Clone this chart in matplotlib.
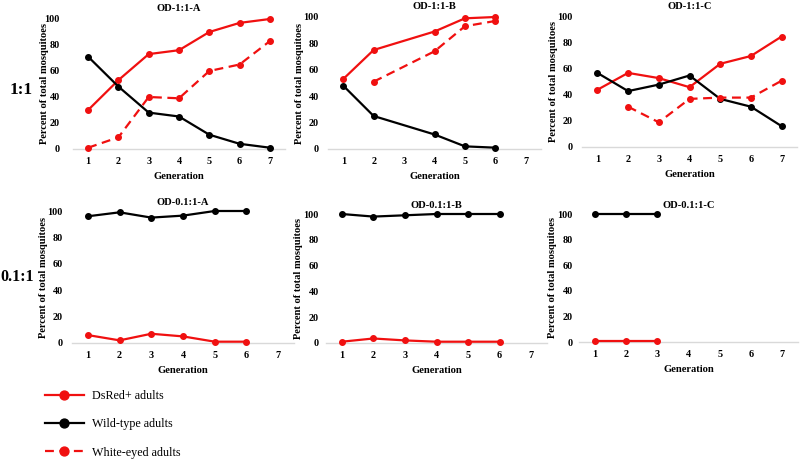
import matplotlib
matplotlib.use("Agg")
import matplotlib.pyplot as plt
from matplotlib.lines import Line2D

plt.rcParams['font.family'] = ['Liberation Serif', 'DejaVu Serif']

# ---------------- data ----------------
generations = [1, 2, 3, 4, 5, 6, 7]
tick_labels = ["1", "2", "3", "4", "5", "6", "7"]
y_ticks = [0, 20, 40, 60, 80, 100]

titles = ["OD-1:1-A", "OD-1:1-B", "OD-1:1-C",
          "OD-0.1:1-A", "OD-0.1:1-B", "OD-0.1:1-C"]
row_labels = ["1:1", "0.1:1"]
series_names = ["DsRed+ adults", "Wild-type adults", "White-eyed adults"]

# OD-1:1-A
a1_dsred_x = [1, 2, 3, 4, 5, 6, 7]
a1_dsred = [30, 53, 73, 76, 90, 97, 100]
a1_wild_x = [1, 2, 3, 4, 5, 6, 7]
a1_wild = [71, 48, 28, 25, 11, 4, 1]
a1_white_x = [1, 2, 3, 4, 5, 6, 7]
a1_white = [1, 9, 40, 39, 60, 65, 83]

# OD-1:1-B
b1_dsred_x = [1, 2, 4, 5, 6]
b1_dsred = [53, 75, 89, 99, 100]
b1_wild_x = [1, 2, 4, 5, 6]
b1_wild = [48, 25, 11, 2, 1]
b1_white_x = [2, 4, 5, 6]
b1_white = [51, 74, 93, 97]

# OD-1:1-C
c1_dsred_x = [1, 2, 3, 4, 5, 6, 7]
c1_dsred = [44, 57, 53, 46, 64, 70, 85]
c1_wild_x = [1, 2, 3, 4, 5, 6, 7]
c1_wild = [57, 43, 48, 55, 37, 31, 16]
c1_white_x = [2, 3, 4, 5, 6, 7]
c1_white = [31, 19, 37, 38, 38, 51]

# OD-0.1:1-A
a2_dsred_x = [1, 2, 3, 4, 5, 6]
a2_dsred = [6, 2, 7, 5, 1, 1]
a2_wild_x = [1, 2, 3, 4, 5, 6]
a2_wild = [96, 99, 95, 96.5, 100, 100]

# OD-0.1:1-B
b2_dsred_x = [1, 2, 3, 4, 5, 6]
b2_dsred = [1, 3.5, 2, 1, 1, 1]
b2_wild_x = [1, 2, 3, 4, 5, 6]
b2_wild = [100, 98, 99, 100, 100, 100]

# OD-0.1:1-C
c2_dsred_x = [1, 2, 3]
c2_dsred = [0.5, 0.5, 0.5]
c2_wild_x = [1, 2, 3]
c2_wild = [100, 100, 100]

panels = [
    [(a1_dsred_x, a1_dsred), (a1_wild_x, a1_wild), (a1_white_x, a1_white)],
    [(b1_dsred_x, b1_dsred), (b1_wild_x, b1_wild), (b1_white_x, b1_white)],
    [(c1_dsred_x, c1_dsred), (c1_wild_x, c1_wild), (c1_white_x, c1_white)],
    [(a2_dsred_x, a2_dsred), (a2_wild_x, a2_wild), None],
    [(b2_dsred_x, b2_dsred), (b2_wild_x, b2_wild), None],
    [(c2_dsred_x, c2_dsred), (c2_wild_x, c2_wild), None],
]

# ---------------- style ----------------
RED = '#F01010'
BLACK = '#000000'
styles = [
    dict(color=RED, linestyle='-'),
    dict(color=BLACK, linestyle='-'),
    dict(color=RED, linestyle=(0, (4, 2.5))),
]

W, H = 800, 459
fig = plt.figure(figsize=(W / 100, H / 100), dpi=100)

# axes rectangles in pixels: left, right, bottom(y of 0), top(y of 100)
rects_px = [
    (73, 285, 149, 19),
    (328, 541, 149, 17),
    (582, 797, 147, 17),
    (72, 294, 343, 211),
    (326, 547, 343, 214),
    (579, 798, 342, 214),
]
ytick_pad_px = [13, 9, 9, 9, 7, 6]
ylabel_x_px = [45, 300, 554, 44, 299, 553]
title_pad = [6, 6, 6, 4.5, 4.5, 4.5]

axes = []
for i, (l, r, b, t) in enumerate(rects_px):
    ax = fig.add_axes([l / W, 1 - b / H, (r - l) / W, (b - t) / H])
    axes.append(ax)
    for j, s in enumerate(panels[i]):
        if s is None:
            continue
        xs, ys = s
        ax.plot(xs, ys, marker='o', markersize=4, linewidth=1.6,
                clip_on=False, zorder=3, **styles[j])
    ax.set_xlim(0.5, 7.5)
    ax.set_ylim(0, 100)
    ax.set_xticks(generations)
    ax.set_xticklabels(tick_labels)
    ax.set_yticks(y_ticks)
    for sp in ['top', 'right', 'left']:
        ax.spines[sp].set_visible(False)
    ax.spines['bottom'].set_color('#D9D9D9')
    ax.spines['bottom'].set_linewidth(1.0)
    ax.tick_params(axis='both', length=0, labelsize=7.3)
    ax.tick_params(axis='x', pad=6)
    ax.tick_params(axis='y', pad=ytick_pad_px[i] * 0.72)
    for lab in ax.get_xticklabels() + ax.get_yticklabels():
        lab.set_fontweight('bold')
    ax.set_title(titles[i], fontsize=7.6, fontweight='bold', pad=title_pad[i])
    ax.set_ylabel("Percent of total mosquitoes", fontsize=7.6,
                  fontweight='bold')
    ax.yaxis.set_label_coords((ylabel_x_px[i] + 4 - l) / (r - l), 0.5)
    ax.set_xlabel("Generation", fontsize=7.6, fontweight='bold', labelpad=4)
    ax.patch.set_alpha(0)

fig.text(21 / W, 1 - 90 / H, row_labels[0], fontsize=12.5, fontweight='bold',
         ha='center', va='center')
fig.text(17 / W, 1 - 277 / H, row_labels[1], fontsize=11.5, fontweight='bold',
         ha='center', va='center')

handles = [Line2D([], [], marker='o', markersize=4, linewidth=1.6, **st)
           for st in styles]
fig.legend(handles, series_names, loc='upper left',
           bbox_to_anchor=(45 / W, 1 - 390 / H), frameon=False,
           fontsize=8.7, handlelength=3.2, handletextpad=0.7,
           labelspacing=1.35, borderpad=0, borderaxespad=0,
           markerscale=1.6)

fig.savefig("out.png", dpi=100, facecolor='white')
